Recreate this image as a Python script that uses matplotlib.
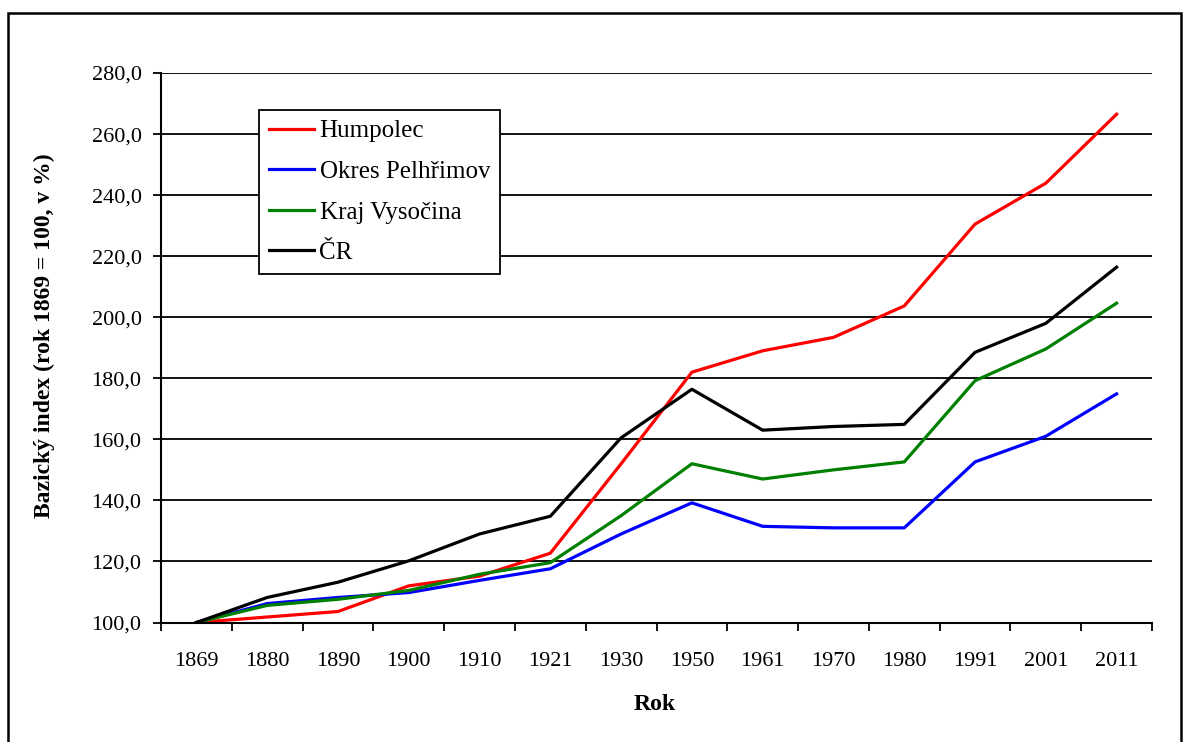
import matplotlib
matplotlib.use("Agg")
import matplotlib.pyplot as plt
from matplotlib.patches import Rectangle
from matplotlib.ticker import FixedLocator, FuncFormatter

years = ["1869", "1880", "1890", "1900", "1910", "1921", "1930", "1950",
         "1961", "1970", "1980", "1991", "2001", "2011"]
humpolec = [100.0, 101.8, 103.6, 112.0, 115.2, 122.7, 152.0, 182.0,
            189.0, 193.4, 203.7, 230.5, 243.9, 266.5]
pelhrimov = [100.0, 106.2, 108.2, 109.8, 113.8, 117.6, 129.0, 139.2,
             131.5, 131.0, 131.0, 152.6, 161.0, 174.9]
vysocina = [100.0, 105.6, 107.6, 110.5, 115.8, 119.6, 135.0, 152.0,
            147.0, 150.0, 152.6, 179.2, 189.6, 204.6]
cr = [100.0, 108.2, 113.2, 120.2, 129.0, 134.8, 160.5, 176.4,
      163.0, 164.2, 164.9, 188.5, 198.0, 216.4]
series_names = ["Humpolec", "Okres Pelhřimov", "Kraj Vysočina", "ČR"]
series_colors = ["#ff0000", "#0000ff", "#008000", "#000000"]
y_ticks = [100, 120, 140, 160, 180, 200, 220, 240, 260, 280]

plt.rcParams['font.family'] = ['Liberation Serif', 'DejaVu Serif']

W, H = 1184, 742
fig = plt.figure(figsize=(W / 100, H / 100), dpi=100)
fig.patches.append(Rectangle((8 / W, -0.01), (1181 - 8) / W, (H - 13) / H + 0.01,
                             transform=fig.transFigure, fill=False,
                             edgecolor='black', linewidth=1.8))

L, R, T, B = 161, 1152, 73, 622.5
ax = fig.add_axes([L / W, 1 - B / H, (R - L) / W, (B - T) / H])

x = list(range(len(years)))
for vals, name, col in zip([humpolec, pelhrimov, vysocina, cr], series_names, series_colors):
    ax.plot(x, vals, color=col, linewidth=2.3, label=name)

ax.set_xlim(-0.5, len(years) - 0.5)
ax.set_ylim(100, 280)
ax.yaxis.set_major_locator(FixedLocator(y_ticks))
ax.yaxis.set_major_formatter(FuncFormatter(lambda v, p: f"{v:.1f}".replace('.', ',')))
ax.yaxis.grid(True, color='black', linewidth=1.3)
ax.set_axisbelow(True)

ax.xaxis.set_major_locator(FixedLocator([i - 0.5 for i in range(len(years) + 1)]))
ax.xaxis.set_major_formatter(FuncFormatter(lambda v, p: ""))
ax.xaxis.set_minor_locator(FixedLocator(x))
ax.set_xticklabels(years, minor=True)
ax.tick_params(axis='x', which='major', length=6, width=1.3, direction='out')
ax.tick_params(axis='x', which='minor', length=0, pad=21, labelsize=16)
ax.tick_params(axis='y', which='major', length=6, width=1.3, direction='out', pad=8, labelsize=16)

for s in ['top', 'right']:
    ax.spines[s].set_visible(False)
ax.spines['left'].set_linewidth(1.5)
ax.spines['bottom'].set_linewidth(1.5)

fig.text(655 / W, 1 - 705 / H, "Rok", fontsize=17, fontweight='bold', ha='center', va='center')
fig.text(44 / W, 1 - 336 / H, "Bazický index (rok 1869 = 100, v %)", fontsize=17,
         fontweight='bold', ha='center', va='center', rotation=90)

leg = ax.legend(loc='upper left', bbox_to_anchor=(259 / W, 1 - 110 / H),
                bbox_transform=fig.transFigure,
                fontsize=18, frameon=True, fancybox=False, edgecolor='black',
                borderpad=0.4, labelspacing=0.72, handlelength=1.8, handletextpad=0.22,
                borderaxespad=0)
leg.get_frame().set_linewidth(1.3)
leg.get_frame().set_alpha(1)

fig.savefig("out.png", dpi=100)
